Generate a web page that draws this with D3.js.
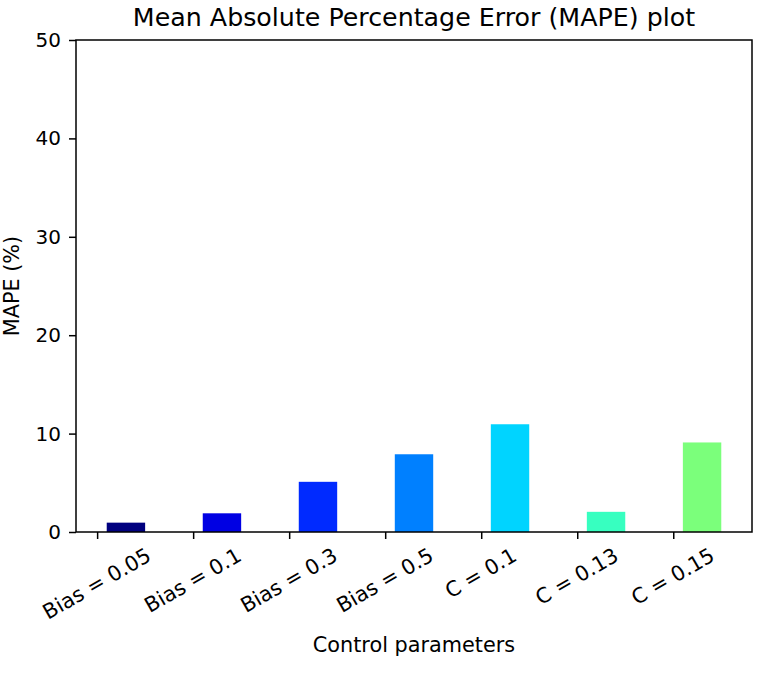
<!DOCTYPE html>
<html><head><meta charset="utf-8">
<script src="https://cdn.jsdelivr.net/npm/d3@7"></script>
<style>body{margin:0;background:#fff}svg{display:block}text{font-family:"DejaVu Sans",sans-serif;fill:#000}</style>
</head><body><svg id="c" width="763" height="677"></svg>
<script>
const categories = ["Bias = 0.05","Bias = 0.1","Bias = 0.3","Bias = 0.5","C = 0.1","C = 0.13","C = 0.15"];
const mapeValues = [0.95, 1.9, 5.1, 7.9, 10.95, 2.05, 9.1];
const barColors = ["#00007f","#0000e3","#002aff","#0080ff","#00d4ff","#37ffc0","#7bff7b"];
const yTicks = [0,10,20,30,40,50];

const svg = d3.select("#c");
const L=76, R=752, T=40, B=532;
const fs=20, fsx=20.8;
const x = d3.scaleLinear().domain([-0.22, 6.82]).range([L,R]);
const y = d3.scaleLinear().domain([0,50]).range([B,T]);
const barW = 0.4, barOff = 0.3;

svg.selectAll("rect.bar").data(mapeValues).join("rect").attr("class","bar")
  .attr("x",(d,i)=>x(i+barOff-barW/2)).attr("width",(d,i)=>x(i+barOff+barW/2)-x(i+barOff-barW/2))
  .attr("y",d=>y(d)).attr("height",d=>y(0)-y(d)).attr("fill",(d,i)=>barColors[i]);

svg.append("rect").attr("x",L).attr("y",T).attr("width",R-L).attr("height",B-T)
  .attr("fill","none").attr("stroke","#000").attr("stroke-width",1.5);

const yAxis = d3.axisLeft(y).tickValues(yTicks).tickSize(7).tickPadding(8).tickFormat(d3.format("d"));
const gy = svg.append("g").attr("transform",`translate(${L},0)`).call(yAxis);
gy.select(".domain").remove();
gy.selectAll("line").attr("stroke","#000").attr("stroke-width",1.5);
gy.selectAll("text").attr("font-size",fs).attr("font-family","DejaVu Sans").attr("fill","#000");

const xAxis = d3.axisBottom(x).tickValues(d3.range(categories.length)).tickSize(7).tickFormat(i=>categories[i]);
const gx = svg.append("g").attr("transform",`translate(0,${B})`).call(xAxis);
gx.select(".domain").remove();
gx.selectAll("line").attr("stroke","#000").attr("stroke-width",1.5);
const asc=0.76*fsx, dsc=0.24*fsx, topOff=14;
gx.selectAll("text").attr("font-size",fsx).attr("font-family","DejaVu Sans").attr("fill","#000")
  .attr("text-anchor","middle").attr("dy",null).attr("y",null)
  .each(function(){
    const w=this.getComputedTextLength();
    d3.select(this).attr("transform",`translate(${-0.25*(dsc-asc)},${topOff+0.25*w+0.866*asc}) rotate(-30)`);
  });

svg.append("text").attr("x",(L+R)/2).attr("y",26).attr("text-anchor","middle").attr("font-size",25.3)
  .text("Mean Absolute Percentage Error (MAPE) plot");
svg.append("text").attr("x",(L+R)/2).attr("y",652).attr("text-anchor","middle").attr("font-size",20.8)
  .text("Control parameters");
svg.append("text").attr("transform",`translate(19,${(T+B)/2}) rotate(-90)`).attr("text-anchor","middle").attr("font-size",20.8)
  .text("MAPE (%)");
</script></body></html>
